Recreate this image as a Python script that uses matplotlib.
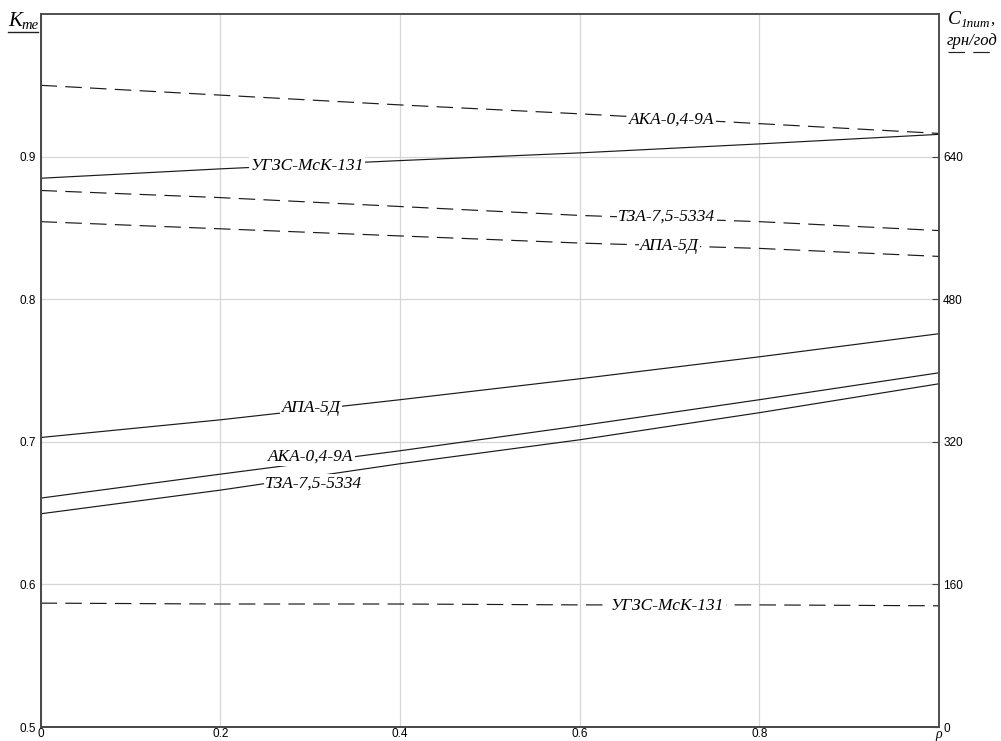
import matplotlib
matplotlib.use('Agg')
import matplotlib.pyplot as plt
from matplotlib.lines import Line2D

# relative load rho
rho = [0.0, 0.2, 0.4, 0.6, 0.8, 1.0]

# K_te, left axis (solid curves)
k_ugzs = [0.8848, 0.8914, 0.8972, 0.9026, 0.9089, 0.9156]
k_apa = [0.7030, 0.7154, 0.7295, 0.7442, 0.7596, 0.7758]
k_aka = [0.6605, 0.6773, 0.6937, 0.7112, 0.7295, 0.7484]
k_tza = [0.6495, 0.6661, 0.6846, 0.7014, 0.7204, 0.7407]

# C_1pit, grn/god, right axis (dashed curves)
c_aka = [720, 709, 698, 688, 677, 666]
c_tza = [602, 594, 584, 574, 567, 557]
c_apa = [567, 559, 551, 543, 537, 528]
c_ugzs = [139, 138, 138, 137, 137, 136]

left_ticks = [0.5, 0.6, 0.7, 0.8, 0.9]
right_ticks = [0, 160, 320, 480, 640]
x_ticks = [0, 0.2, 0.4, 0.6, 0.8, 1.0]
x_labels = ['0', '0.2', '0.4', '0.6', '0.8', 'ρ']

W, H = 1001, 741
tick_font = ['Liberation Sans Narrow', 'Liberation Sans', 'DejaVu Sans']
lab_font = ['Liberation Serif', 'DejaVu Serif']


def fx(x):
    return x / W


def fy(y):
    return 1 - y / H


fig = plt.figure(figsize=(W / 100, H / 100), dpi=100)
ax = fig.add_axes([fx(40.5), fy(727), (939 - 40.5) / W, (727 - 14) / H])
ax2 = ax.twinx()

line_kw = dict(color='#1a1a1a', lw=0.85)
dash_kw = dict(color='#1a1a1a', lw=0.85, dashes=(14, 7))

ax.plot(rho, k_ugzs, **line_kw)
ax.plot(rho, k_apa, **line_kw)
ax.plot(rho, k_aka, **line_kw)
ax.plot(rho, k_tza, **line_kw)

ax2.plot(rho, c_aka, **dash_kw)
ax2.plot(rho, c_tza, **dash_kw)
ax2.plot(rho, c_apa, **dash_kw)
ax2.plot(rho, c_ugzs, **dash_kw)

ax.set_xlim(0, 1)
ax.set_ylim(0.5, 1.0)
ax2.set_ylim(0, 800)

ax.set_xticks(x_ticks)
ax.set_xticklabels(x_labels)
ax.set_yticks(left_ticks)
ax.set_yticklabels([str(v) for v in left_ticks])
ax2.set_yticks(right_ticks)
ax2.set_yticklabels([str(v) for v in right_ticks])

ax.grid(True, color='#d6d6d6', lw=0.9)
ax.tick_params(axis='y', length=0, labelsize=8.5, pad=3)
ax.tick_params(axis='x', length=0, labelsize=8.5, pad=1)
ax2.tick_params(axis='y', direction='in', length=5, width=0.8, color='#444444',
                labelsize=8.5, pad=3)
for lbl in ax.get_xticklabels() + ax.get_yticklabels() + ax2.get_yticklabels():
    lbl.set_family(tick_font)
ax.get_xticklabels()[-1].set_family(lab_font)
ax.get_xticklabels()[-1].set_style('italic')
ax.get_xticklabels()[-1].set_fontsize(10)

for a in (ax, ax2):
    for side, s in a.spines.items():
        s.set_color('#4a4a4a')
        s.set_linewidth(1.4 if side in ('left', 'bottom') else 1.1)

# curve labels
box = dict(facecolor='white', edgecolor='none', pad=1.0)
txt_kw = dict(family=lab_font, style='italic', fontsize=12.5, ha='center',
              va='center', bbox=box, zorder=5)
ax.text(0.297, 0.8937, 'УГЗС-МсК-131', **txt_kw)
ax.text(0.301, 0.7239, 'АПА-5Д', **txt_kw)
ax.text(0.301, 0.6895, 'АКА-0,4-9А', **txt_kw)
ax.text(0.304, 0.6705, 'ТЗА-7,5-5334', **txt_kw)
ax2.text(0.703, 681.5, 'АКА-0,4-9А', **txt_kw)
ax2.text(0.697, 572.6, 'ТЗА-7,5-5334', **txt_kw)
ax2.text(0.700, 540.0, 'АПА-5Д', **txt_kw)
ax2.text(0.698, 135.9, 'УГЗС-МсК-131', **txt_kw)

# left axis title K_te
fig.text(fx(8), fy(26), 'K', family=lab_font, style='italic', fontsize=15)
fig.text(fx(21), fy(29), 'те', family=lab_font, style='italic', fontsize=10.5)
fig.add_artist(Line2D([fx(8), fx(38)], [fy(32), fy(32)], color='#222222', lw=1.0))

# right axis title C_1pit, grn/god
fig.text(fx(948), fy(24), 'C', family=lab_font, style='italic', fontsize=14)
fig.text(fx(961), fy(27), '1пит', family=lab_font, style='italic', fontsize=9.5)
fig.text(fx(990), fy(24), ',', family=lab_font, style='italic', fontsize=12)
fig.text(fx(947), fy(45), 'грн/год', family=lab_font, style='italic', fontsize=12)
fig.add_artist(Line2D([fx(948), fx(992)], [fy(52), fy(52)], color='#222222',
                      lw=0.85, dashes=(14, 7)))

fig.savefig('out.png', dpi=100)
